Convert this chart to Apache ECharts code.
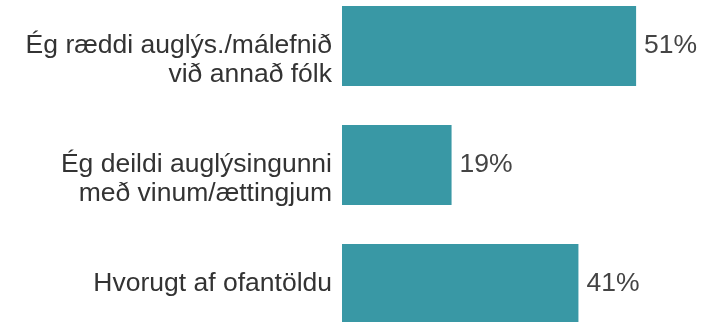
<!DOCTYPE html>
<html>
<head>
<meta charset="utf-8">
<script src="https://cdn.jsdelivr.net/npm/echarts@6/dist/echarts.min.js"></script>
<style>
  html, body { margin: 0; padding: 0; background: #fff; }
  #chart { width: 706px; height: 322px; }
</style>
</head>
<body>
<div id="chart"></div>
<script>
// Survey answers (share of respondents, %)
const categories = [
  'Ég ræddi auglýs./málefnið\nvið annað fólk',
  'Ég deildi auglýsingunni\nmeð vinum/ættingjum',
  'Hvorugt af ofantöldu'
];
const values = [51, 19, 41];

// Keep the first line of each category label level with its bar:
// a wrapped label gets empty lines on top so its first line sits in the middle.
function hangLabel(name) {
  const extra = name.split('\n').length - 1;
  return '\n'.repeat(extra) + name;
}

const chart = echarts.init(document.getElementById('chart'), null, { renderer: 'canvas' });
chart.setOption({
  animation: false,
  grid: {
    left: 342, width: 346, top: -13.5, height: 357,
    containLabel: false,
    outerBoundsMode: 'none'
  },
  xAxis: {
    type: 'value',
    min: 0,
    max: 60,
    show: false
  },
  yAxis: {
    type: 'category',
    data: categories,
    inverse: true,
    axisLine: { show: false },
    axisTick: { show: false },
    splitLine: { show: false },
    axisLabel: {
      margin: 10,
      fontFamily: 'Liberation Sans',
      fontSize: 26.5,
      lineHeight: 29,
      color: '#333333',
      align: 'right',
      verticalAlign: 'middle',
      formatter: hangLabel
    }
  },
  series: [{
    type: 'bar',
    data: values,
    barWidth: 80,
    itemStyle: { color: '#3998a5' },
    label: {
      show: true,
      position: 'right',
      distance: 8,
      formatter: '{c}%',
      fontFamily: 'Liberation Sans',
      fontSize: 26.5,
      color: '#444444'
    }
  }]
});
</script>
</body>
</html>
